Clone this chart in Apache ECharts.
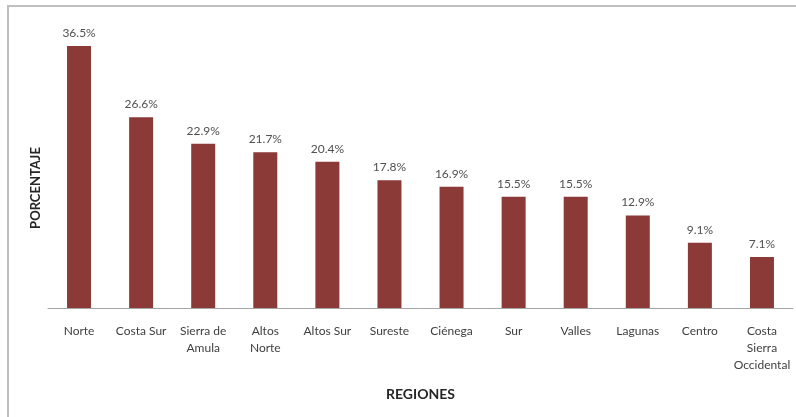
<!DOCTYPE html>
<html>
<head>
<meta charset="utf-8">
<script src="https://cdn.jsdelivr.net/npm/echarts@6/dist/echarts.min.js"></script>
<style>
  html, body { margin: 0; padding: 0; background: #fff; }
  #frame {
    position: absolute; left: 7px; top: 5px; width: 800px; height: 420px;
    border-left: 2px solid #bfbfbf; border-top: 2px solid #bfbfbf;
  }
  #chart { position: absolute; left: 0; top: 0; width: 796px; height: 417px; }
</style>
</head>
<body>
<div id="frame"></div>
<div id="chart"></div>
<script>
// Regiones y porcentajes
const regiones = ['Norte', 'Costa Sur', 'Sierra de\nAmula', 'Altos\nNorte', 'Altos Sur', 'Sureste',
  'Ciénega', 'Sur', 'Valles', 'Lagunas', 'Centro', 'Costa\nSierra\nOccidental'];
const porcentajes = [36.5, 26.6, 22.9, 21.7, 20.4, 17.8, 16.9, 15.5, 15.5, 12.9, 9.1, 7.1];

const chart = echarts.init(document.getElementById('chart'));

chart.setOption({
  backgroundColor: 'transparent',
  animation: false,
  textStyle: { fontFamily: 'Lato' },
  grid: { left: 48, right: 3, top: 21, bottom: 109 },
  // titulo del eje Y (desplazado hacia abajo como en el original)
  graphic: [{
    type: 'text',
    x: 36,
    y: 188,
    rotation: Math.PI / 2,
    style: {
      text: 'PORCENTAJE',
      font: 'bold 13px Lato',
      fill: '#262626',
      align: 'center',
      verticalAlign: 'middle'
    }
  }],
  xAxis: {
    type: 'category',
    data: regiones,
    name: 'REGIONES',
    nameLocation: 'middle',
    nameGap: 79,
    nameTextStyle: { fontWeight: 'bold', fontSize: 14, color: '#262626', fontFamily: 'Lato' },
    axisLine: { lineStyle: { color: '#a6a6a6', width: 1 } },
    axisTick: { show: false },
    axisLabel: { margin: 15, fontSize: 12, lineHeight: 17, color: '#404040', interval: 0 }
  },
  yAxis: {
    type: 'value',
    min: 0,
    max: 40,
    axisLine: { show: false },
    axisTick: { show: false },
    axisLabel: { show: false },
    splitLine: { show: false }
  },
  series: [{
    type: 'bar',
    data: porcentajes,
    barWidth: 24,
    itemStyle: { color: '#8b3a37' },
    label: {
      show: true,
      position: 'top',
      distance: 7,
      fontSize: 12,
      color: '#505050',
      formatter: p => p.value.toFixed(1) + '%'
    }
  }]
});
</script>
</body>
</html>
